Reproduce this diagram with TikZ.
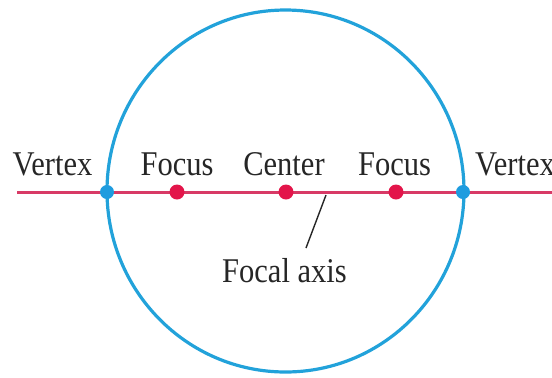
\documentclass[tikz,border=0pt]{standalone}
\usepackage{fontspec}
\setmainfont{Liberation Serif}[FakeStretch=0.88]
\usepackage{xcolor}
\definecolor{ring-blue}{HTML}{22A2DA}
\definecolor{vertex-blue}{HTML}{1E9CDF}
\definecolor{axis-pink}{HTML}{D83A66}
\definecolor{focus-red}{HTML}{E3154A}
\definecolor{label-gray}{HTML}{262626}

\begin{document}
\begin{tikzpicture}[x=0.5pt, y=-0.5pt,
    every node/.style={font=\fontsize{17.35}{20}\selectfont, text=label-gray, anchor=base, inner sep=0pt},
    vertexdot/.style={circle, fill=vertex-blue, minimum size=7pt, inner sep=0pt, anchor=center},
    focusdot/.style={circle, fill=focus-red, minimum size=7.5pt, inner sep=0pt, anchor=center}]
    \useasboundingbox (0,0) rectangle (552,377);
    % focal axis and the ellipse
    \coordinate (axisleft) at (17,192);
    \coordinate (axisright) at (552,192);
    \draw[axis-pink, line width=1.5pt] (axisleft) -- (axisright);
    \draw[ring-blue, line width=1.6pt] (285.5,191) ellipse [x radius=89.25pt, y radius=90.5pt];
    % points on the axis
    \node[vertexdot] (leftvertex) at (107,192) {};
    \node[focusdot] (leftfocus) at (177,192) {};
    \node[focusdot] (center) at (286,192) {};
    \node[focusdot] (rightfocus) at (396,192) {};
    \node[vertexdot] (rightvertex) at (463,192) {};
    % labels
    \node (leftvertexlabel) at (52.5,175) {Vertex};
    \node (leftfocuslabel) at (177,175) {Focus};
    \node (centerlabel) at (284,175) {Center};
    \node (rightfocuslabel) at (394.5,175) {Focus};
    \node (rightvertexlabel) at (515,175) {Vertex};
    \node (axislabel) at (284.5,282) {Focal axis};
    \coordinate (leadtop) at (326,195);
    \coordinate (leadbot) at (306,248);
    \draw[label-gray, line width=0.7pt] (leadtop) -- (leadbot);
\end{tikzpicture}
\end{document}
